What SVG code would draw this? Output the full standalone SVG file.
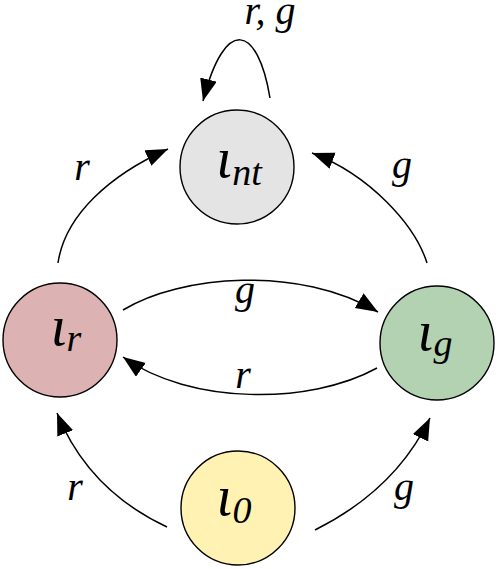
<svg xmlns="http://www.w3.org/2000/svg" width="498" height="569" viewBox="0 0 498 569">
<style>
.node{stroke:#000;stroke-width:1.4}
.edge{fill:none;stroke:#000;stroke-width:1.5;marker-end:url(#arr)}
text{font-family:'Liberation Serif','Times New Roman','DejaVu Serif',serif;font-style:italic;fill:#000;text-anchor:middle}
.lbl{font-size:40px}
.big{font-size:57px}
.sub{font-size:38px}
</style>
<defs>
<marker id="arr" markerUnits="userSpaceOnUse" markerWidth="24" markerHeight="18" refX="22" refY="8.5" orient="auto">
<path d="M0,0 L22,8.5 L0,17 z" fill="#000"/>
</marker>
</defs>
<rect width="498" height="569" fill="#fff"/>
<g id="connectors">
<path class="edge" d="M270,98 C258,25 225,15 203,101"/>
<path class="edge" d="M58,263 C65,215 110,175 168,149"/>
<path class="edge" d="M427,263 C415,225 370,175 312,153"/>
<path class="edge" d="M123,310 C180,275 300,265 378,312"/>
<path class="edge" d="M377,368 C310,405 190,405 123,357"/>
<path class="edge" d="M167,527 C120,505 80,470 57,413"/>
<path class="edge" d="M315,530 C365,505 405,470 430,418"/>
<text class="lbl" x="270" y="24">r, g</text>
<text class="lbl" x="82" y="180">r</text>
<text class="lbl" x="402" y="178">g</text>
<text class="lbl" x="245" y="303">g</text>
<text class="lbl" x="243" y="388">r</text>
<text class="lbl" x="75" y="500">r</text>
<text class="lbl" x="404" y="500">g</text>
</g>
<g id="n_nt">
<circle class="node" cx="237" cy="167" r="57" fill="#e4e4e4"/>
<text x="239" y="177"><tspan class="big">ι</tspan><tspan class="sub" dy="8">nt</tspan></text>
</g>
<g id="n_r">
<circle class="node" cx="60" cy="340" r="57" fill="#dcb2b2"/>
<text x="66" y="345"><tspan class="big">ι</tspan><tspan class="sub" dy="6">r</tspan></text>
</g>
<g id="n_g">
<circle class="node" cx="437" cy="343" r="57" fill="#b2d2b2"/>
<text x="435" y="350"><tspan class="big">ι</tspan><tspan class="sub" dy="6">g</tspan></text>
</g>
<g id="n_0">
<circle class="node" cx="238" cy="508" r="57" fill="#fff2b2"/>
<text x="234" y="515"><tspan class="big">ι</tspan><tspan class="sub" dy="8">0</tspan></text>
</g>
</svg>
